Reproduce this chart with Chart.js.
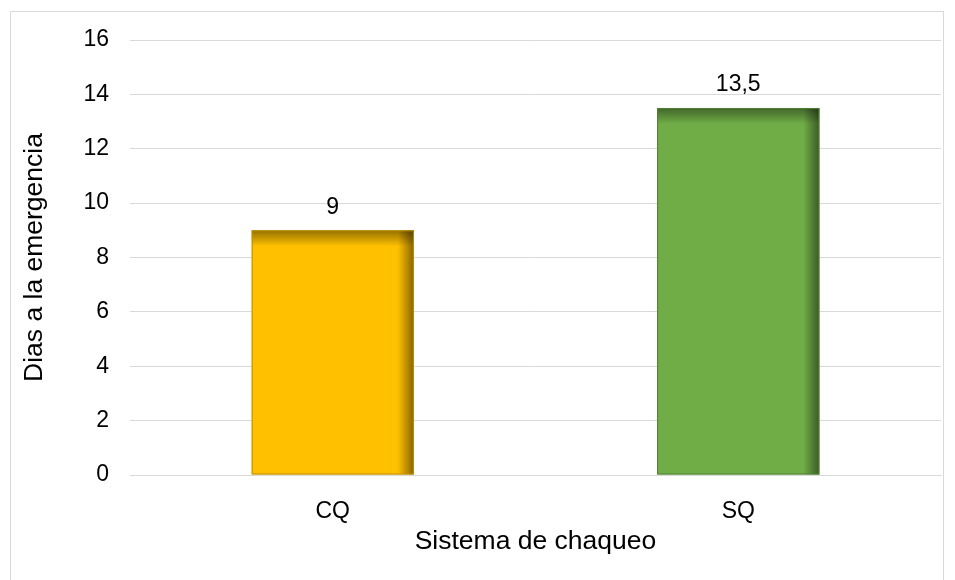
<!DOCTYPE html>
<html>
<head>
<meta charset="utf-8">
<script src="https://cdn.jsdelivr.net/npm/chart.js@4"></script>
<style>
  html, body { margin: 0; padding: 0; background: #fff; }
  #wrap { position: relative; width: 955px; height: 580px; }
  #frame { position: absolute; left: 10px; top: 11px; width: 934px; height: 600px; border: 1px solid #d9d9d9; box-sizing: border-box; }
  canvas { position: absolute; left: 0; top: 0; }
</style>
</head>
<body>
<div id="wrap">
  <div id="frame"></div>
  <canvas id="myChart" width="955" height="580"></canvas>
</div>
<script>
const categories = ["CQ", "SQ"];
const dias = [9, 13.5];
const barColors = ["#FFC000", "#70AD47"];
const edgeColors = ["#BF9000", "#507E32"];
const yTicks = [0, 2, 4, 6, 8, 10, 12, 14, 16];

const fmt = (v) => String(v).replace(".", ",");

// sombra interior arriba y a la derecha de cada barra, y etiqueta de valor
const barDecor = {
  id: "barDecor",
  afterDatasetsDraw(chart) {
    const c = chart.ctx;
    const meta = chart.getDatasetMeta(0);
    meta.data.forEach((bar, i) => {
      const left = bar.x - bar.width / 2;
      const right = bar.x + bar.width / 2;
      const top = bar.y;
      const bottom = bar.base;
      c.save();
      let g = c.createLinearGradient(0, top, 0, top + 16);
      g.addColorStop(0, "rgba(0,0,0,0.42)");
      g.addColorStop(1, "rgba(0,0,0,0)");
      c.fillStyle = g;
      c.fillRect(left, top, bar.width, 16);
      g = c.createLinearGradient(right - 16, 0, right, 0);
      g.addColorStop(0, "rgba(0,0,0,0)");
      g.addColorStop(1, "rgba(0,0,0,0.48)");
      c.fillStyle = g;
      c.fillRect(right - 16, top, 16, bottom - top);
      c.strokeStyle = edgeColors[i];
      c.lineWidth = 1;
      c.strokeRect(left + 0.5, top + 0.5, bar.width - 1, bottom - top - 1);
      c.fillStyle = "#000";
      c.font = "23px 'Liberation Sans', Arial, sans-serif";
      c.textAlign = "center";
      c.textBaseline = "middle";
      c.fillText(fmt(dias[i]), bar.x, top - 23);
      c.restore();
    });
  }
};

const ctx = document.getElementById("myChart");
new Chart(ctx, {
  type: "bar",
  data: {
    labels: categories,
    datasets: [{
      data: dias,
      backgroundColor: barColors,
      borderWidth: 0,
      categoryPercentage: 0.8,
      barPercentage: 0.5
    }]
  },
  options: {
    responsive: false,
    animation: false,
    layout: { padding: { top: 40, right: 14, bottom: 20, left: 0 } },
    plugins: { legend: { display: false }, tooltip: { enabled: false } },
    scales: {
      x: {
        grid: { display: false },
        border: { display: true, color: "#d9d9d9", width: 1 },
        ticks: { color: "#000", font: { family: "'Liberation Sans', Arial", size: 23 }, padding: 15 },
        title: {
          display: true, text: "Sistema de chaqueo", color: "#000",
          font: { family: "'Liberation Sans', Arial", size: 26.5 },
          padding: { top: 0, bottom: 2 }
        },
        afterFit(scale) { scale.height = 85; }
      },
      y: {
        min: 0, max: 16,
        afterBuildTicks(scale) { scale.ticks = yTicks.map(v => ({ value: v })); },
        grid: { color: "#d9d9d9", lineWidth: 1, drawTicks: false },
        border: { display: false },
        ticks: { color: "#000", font: { family: "'Liberation Sans', Arial", size: 23 }, padding: 21 },
        title: {
          display: true, text: "Dias a la emergencia", color: "#000",
          font: { family: "'Liberation Sans', Arial", size: 26.5 },
          padding: { top: 19, bottom: 0 }
        },
        afterFit(scale) { scale.width = 130; }
      }
    }
  },
  plugins: [barDecor]
});
</script>
</body>
</html>
